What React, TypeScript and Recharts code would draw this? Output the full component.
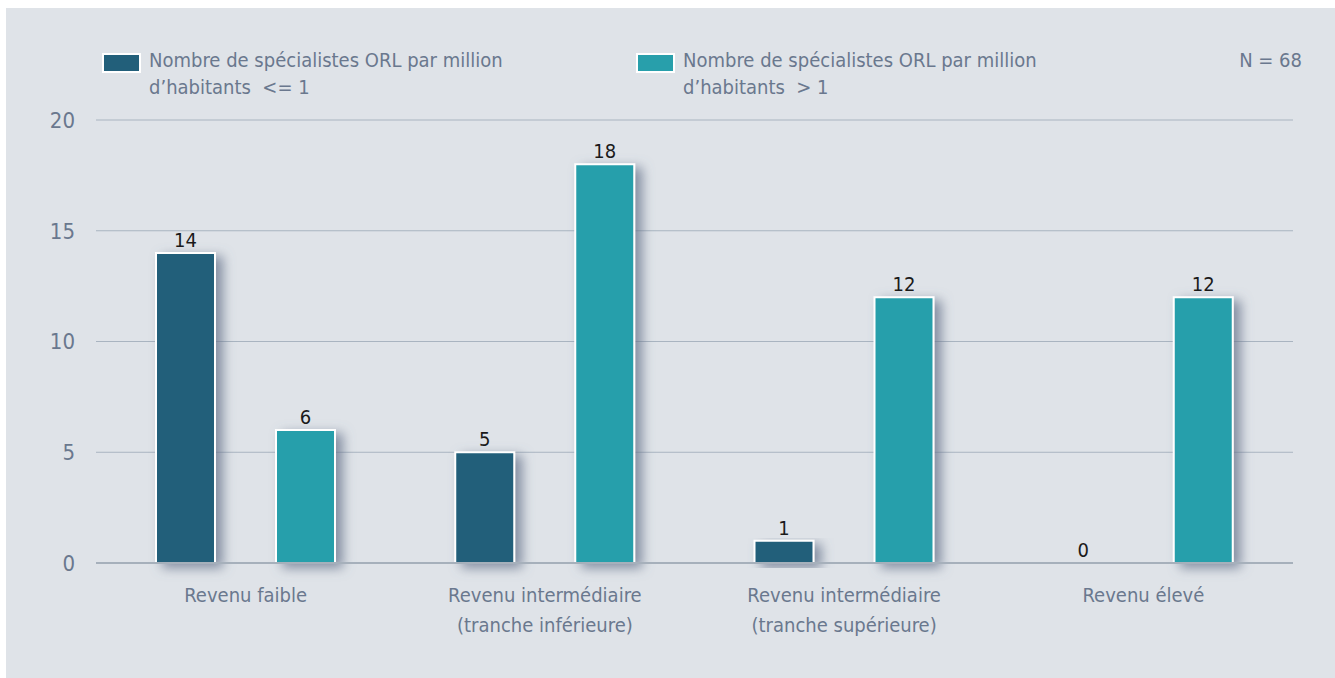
import React from "react";
import {
  BarChart,
  Bar,
  XAxis,
  YAxis,
  CartesianGrid,
  Legend,
  LabelList,
  Rectangle,
} from "recharts";

const categories = [
  "Revenu faible",
  "Revenu intermédiaire\n(tranche inférieure)",
  "Revenu intermédiaire\n(tranche supérieure)",
  "Revenu élevé",
];
const lowDensity = [14, 5, 1, 0];
const highDensity = [6, 18, 12, 12];
const seriesNames = [
  "Nombre de spécialistes ORL par million\nd’habitants  <= 1",
  "Nombre de spécialistes ORL par million\nd’habitants  > 1",
];
const yTicks = [0, 5, 10, 15, 20];
const sampleNote = "N = 68";

const data = categories.map((c, i) => ({
  category: c,
  low: lowDensity[i],
  high: highDensity[i],
}));

const FONT = "'DejaVu Sans Condensed', 'Liberation Sans', sans-serif";
const TEXT = "#6a788e";
const DARK = "#225f7a";
const TEAL = "#289fab";
const BG = "#dfe3e8";

const W = 1329;
const H = 670;

const ShadowBar = (props: any) => <Rectangle {...props} filter="url(#barShadow)" />;

const XTick = (props: any) => {
  const { x, y, payload } = props;
  const lines = String(payload.value).split("\n");
  return (
    <g transform={`translate(${x},${y})`}>
      {lines.map((l, i) => (
        <text
          key={i}
          x={0}
          y={i * 30}
          dy={31}
          textAnchor="middle"
          fill={TEXT}
          fontSize={20}
          fontFamily={FONT}
        >
          {l}
        </text>
      ))}
    </g>
  );
};

const LegendContent = (props: any) => {
  const { payload } = props;
  return (
    <div style={{ position: "relative", width: W, height: 100, fontFamily: FONT }}>
      {(payload || []).map((p: any, i: number) => (
        <div
          key={i}
          style={{
            position: "absolute",
            left: 96 + i * 534,
            top: 39,
            display: "flex",
            alignItems: "flex-start",
          }}
        >
          <div
            style={{
              width: 35,
              height: 16,
              background: p.color,
              border: "2px solid #ffffff",
              marginTop: 6,
              marginRight: 8,
            }}
          />
          <div
            style={{
              whiteSpace: "pre",
              color: TEXT,
              fontSize: 20,
              lineHeight: "27px",
            }}
          >
            {p.value}
          </div>
        </div>
      ))}
      <div
        style={{
          position: "absolute",
          right: W - 1296,
          top: 39,
          color: TEXT,
          fontSize: 20,
          lineHeight: "27px",
          whiteSpace: "pre",
        }}
      >
        {sampleNote}
      </div>
    </div>
  );
};

export default function App() {
  return (
    <div
      style={{
        position: "absolute",
        left: 6,
        top: 8,
        width: W,
        height: H,
        background: BG,
      }}
    >
      <BarChart
        width={W}
        height={H}
        data={data}
        margin={{ top: 112, right: 42, bottom: 55, left: 0 }}
        barSize={59}
        barGap={61}
      >
        <defs>
          <filter id="barShadow" x="-30%" y="-10%" width="180%" height="130%">
            <feDropShadow dx="7" dy="4" stdDeviation="6" floodColor="#66728a" floodOpacity="0.75" />
          </filter>
        </defs>
        <CartesianGrid vertical={false} stroke="#a9b4c0" strokeWidth={1} />
        <XAxis
          dataKey="category"
          tick={<XTick />}
          tickLine={false}
          axisLine={{ stroke: "#a6b0bb", strokeWidth: 2 }}
          interval={0}
          height={60}
        />
        <YAxis
          domain={[0, 20]}
          ticks={yTicks}
          width={90}
          axisLine={false}
          tickLine={false}
          tickMargin={15}
          tick={{ fill: TEXT, fontSize: 22, fontFamily: FONT }}
        />
        <Legend
          layout="horizontal"
          verticalAlign="middle"
          align="center"
          wrapperStyle={{ top: 0, left: 0, width: W, height: 100 }}
          content={<LegendContent />}
        />
        <Bar
          dataKey="low"
          name={seriesNames[0]}
          fill={DARK}
          stroke="#ffffff"
          strokeWidth={2}
          shape={ShadowBar}
          isAnimationActive={false}
        >
          <LabelList dataKey="low" position="top" offset={6} fill="#1a1a1a" fontSize={20} fontFamily={FONT} />
        </Bar>
        <Bar
          dataKey="high"
          name={seriesNames[1]}
          fill={TEAL}
          stroke="#ffffff"
          strokeWidth={2}
          shape={ShadowBar}
          isAnimationActive={false}
        >
          <LabelList dataKey="high" position="top" offset={6} fill="#1a1a1a" fontSize={20} fontFamily={FONT} />
        </Bar>
      </BarChart>
    </div>
  );
}
